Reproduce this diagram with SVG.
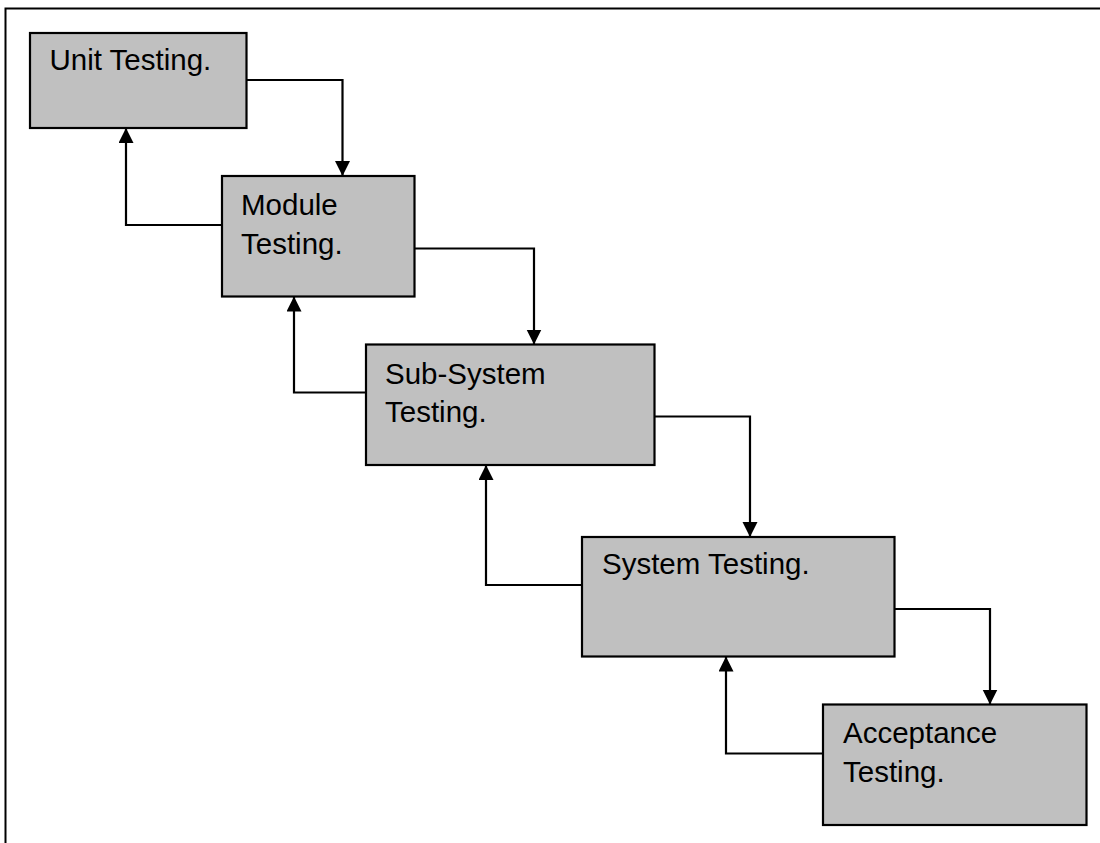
<svg xmlns="http://www.w3.org/2000/svg" width="1100" height="843" viewBox="0 0 1100 843">
  <style>
    .box { fill: #c0c0c0; stroke: #000; stroke-width: 2.2; }
    .lbl { font-family: "Liberation Sans", Arial, sans-serif; font-size: 29.5px; fill: #000; }
    .wire { fill: none; stroke: #000; stroke-width: 2.2; marker-end: url(#head); }
    .frame { fill: none; stroke: #000; stroke-width: 2; }
  </style>
  <defs>
    <marker id="head" markerUnits="userSpaceOnUse" markerWidth="16" markerHeight="16" refX="15" refY="7.5" orient="auto">
      <path d="M0,0 L15,7.5 L0,15 z" fill="#000"/>
    </marker>
  </defs>

  <rect width="1100" height="843" fill="#fff"/>
  <!-- page frame (open to the right and bottom) -->
  <path class="frame" d="M5.5,850 V8.5 H1110"/>

  <g id="unit-testing">
    <rect class="box" x="30" y="33" width="216.5" height="95"/>
    <text class="lbl" x="49.5" y="70">Unit Testing.</text>
  </g>

  <g id="module-testing">
    <rect class="box" x="222" y="176" width="192.5" height="120.5"/>
    <text class="lbl" x="241" y="215">Module</text>
    <text class="lbl" x="241" y="253.5">Testing.</text>
  </g>

  <g id="subsystem-testing">
    <rect class="box" x="366" y="344.5" width="288.5" height="120.5"/>
    <text class="lbl" x="385" y="383.5">Sub-System</text>
    <text class="lbl" x="385" y="422">Testing.</text>
  </g>

  <g id="system-testing">
    <rect class="box" x="582" y="537" width="312.5" height="119.5"/>
    <text class="lbl" x="602" y="574">System Testing.</text>
  </g>

  <g id="acceptance-testing">
    <rect class="box" x="823" y="704.5" width="263.5" height="120.5"/>
    <text class="lbl" x="843" y="742.5">Acceptance</text>
    <text class="lbl" x="843" y="781.5">Testing.</text>
  </g>

  <g id="connectors">
    <!-- forward flow, down the stair -->
    <path class="wire" d="M247,80 H342.5 V176"/>
    <path class="wire" d="M414.5,248.5 H534 V344.5"/>
    <path class="wire" d="M654.5,416.5 H750 V537"/>
    <path class="wire" d="M894.5,609 H990 V704.5"/>
    <!-- return flow, back up the stair -->
    <path class="wire" d="M222,225 H126 V128"/>
    <path class="wire" d="M366,392.5 H294 V296.5"/>
    <path class="wire" d="M582,585 H486 V465"/>
    <path class="wire" d="M823,753.5 H726 V656.5"/>
  </g>
</svg>
